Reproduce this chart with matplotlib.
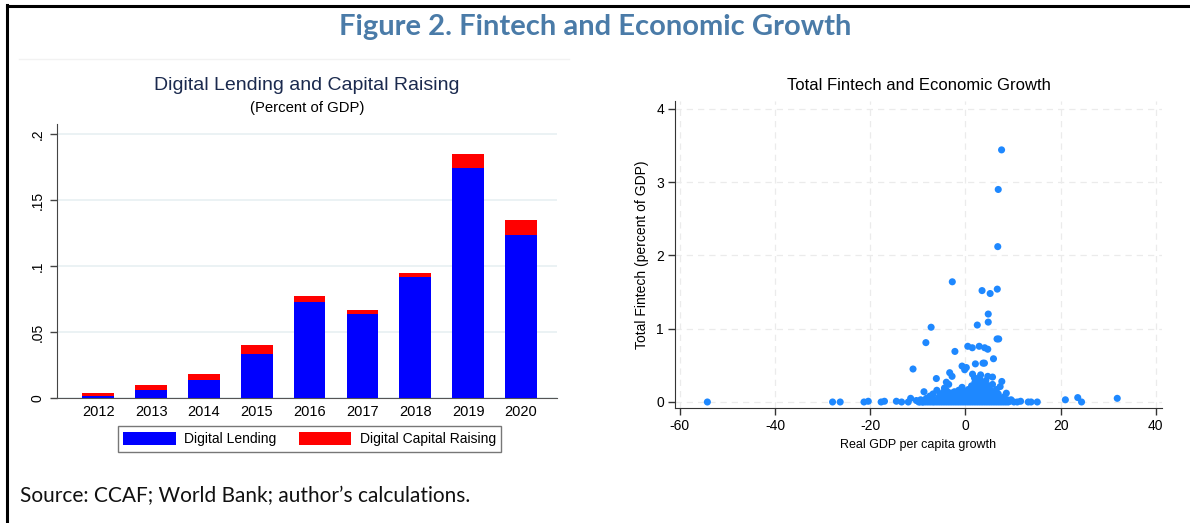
import matplotlib
matplotlib.use("Agg")
import matplotlib.pyplot as plt
from matplotlib.lines import Line2D

# ---------------- data ----------------
years = ["2012", "2013", "2014", "2015", "2016", "2017", "2018", "2019", "2020"]
digital_lending = [0.0018, 0.0063, 0.0139, 0.0337, 0.0727, 0.0635, 0.0916, 0.1744, 0.1233]
digital_capital_raising = [0.0022, 0.0038, 0.0046, 0.0068, 0.0043, 0.0028, 0.0028, 0.0104, 0.0114]
bar_yticks = [0, 0.05, 0.1, 0.15, 0.2]
bar_yticklabels = ["0", ".05", ".1", ".15", ".2"]

# scatter: (real GDP per capita growth, total fintech % of GDP)
scatter_points = [
    (-54.2, 0.0), (-27.9, 0.0), (-26.3, 0.0), (-21.3, 0.0), (-20.4, 0.01),
    (-17.7, 0.0), (-17.0, 0.01), (-14.5, 0.01), (-13.4, 0.0), (-12.0, 0.0),
    (-11.5, 0.05), (-11.0, 0.45), (-8.7, 0.14), (-8.3, 0.81), (-7.2, 1.02),
    (-6.1, 0.32), (-2.75, 1.64), (-2.2, 0.69), (-3.3, 0.40), (-2.8, 0.35),
    (-4.0, 0.27), (-3.5, 0.24), (-4.4, 0.19), (-0.7, 0.20), (-0.7, 0.49),
    (-0.15, 0.44), (0.2, 0.47), (0.5, 0.76), (1.45, 0.74), (2.1, 0.52),
    (2.5, 1.05), (2.9, 0.76), (3.5, 1.52), (3.7, 0.53), (4.0, 0.53),
    (4.05, 0.74), (4.7, 0.72), (4.8, 1.20), (4.8, 1.09), (5.2, 1.48),
    (5.9, 0.59), (4.7, 0.35), (5.7, 0.34), (6.65, 0.86), (7.0, 0.86),
    (6.7, 1.54), (6.8, 2.12), (6.9, 2.90), (7.6, 3.44), (7.65, 0.28),
    (7.3, 0.21), (5.7, 0.24), (6.5, 0.17), (8.6, 0.12), (1.5, 0.38),
    (1.9, 0.33), (3.2, 0.37), (3.1, 0.28), (3.8, 0.26), (4.2, 0.21),
    (2.7, 0.21), (21.0, 0.03), (23.6, 0.06), (24.4, 0.0), (31.9, 0.05),
    (15.1, 0.0), (13.8, 0.0), (13.2, 0.0), (11.6, 0.01), (10.9, 0.0),
    (10.2, 0.0), (9.6, 0.03), (-10.3, 0.02), (-9.8, 0.0), (-9.4, 0.03),
    (-9.0, 0.0), (-8.6, 0.02), (-8.2, 0.05), (-7.8, 0.01), (-7.5, 0.08),
    (-7.1, 0.02), (-6.8, 0.11), (-6.4, 0.03), (-6.0, 0.16), (-5.6, 0.06),
    (-5.3, 0.10), (-5.0, 0.02), (-4.7, 0.13), (-4.3, 0.05), (-3.9, 0.15),
    (-3.6, 0.09), (-3.1, 0.12), (-2.6, 0.07), (-2.3, 0.14), (-1.8, 0.10),
    (-1.4, 0.16), (-0.9, 0.08), (-0.4, 0.13), (0.1, 0.10), (0.6, 0.17),
    (1.0, 0.12), (1.3, 0.22), (1.7, 0.15), (2.0, 0.27), (2.3, 0.18),
    (2.6, 0.30), (2.8, 0.14), (3.0, 0.33), (3.3, 0.20), (3.5, 0.25),
    (3.9, 0.17), (4.3, 0.29), (4.6, 0.13), (5.0, 0.22), (5.4, 0.15),
    (5.9, 0.12), (6.3, 0.08), (6.9, 0.11), (7.5, 0.05), (8.1, 0.07),
    (8.8, 0.03), (9.3, 0.01),
    (-9.5, 0.0), (-8.9, 0.0), (-8.4, 0.0), (-7.9, 0.0), (-7.4, 0.0),
    (-6.9, 0.0), (-6.5, 0.0), (-6.0, 0.0), (-5.5, 0.0), (-5.0, 0.0),
    (-4.5, 0.0), (-4.0, 0.0), (-3.5, 0.0), (-3.0, 0.0), (-2.5, 0.0),
    (-2.0, 0.0), (-1.5, 0.0), (-1.0, 0.0), (-0.5, 0.0), (0.0, 0.0),
    (0.5, 0.0), (1.0, 0.0), (1.5, 0.0), (2.0, 0.0), (2.5, 0.0),
    (3.0, 0.0), (3.5, 0.0), (4.0, 0.0), (4.5, 0.0), (5.0, 0.0),
    (5.5, 0.0), (6.0, 0.0), (6.5, 0.0), (7.0, 0.0), (7.5, 0.0),
    (8.0, 0.0), (8.5, 0.0), (9.0, 0.0),
    (-5.8, 0.04), (-5.2, 0.04), (-4.6, 0.04), (-4.0, 0.04), (-3.4, 0.04),
    (-2.8, 0.04), (-2.2, 0.04), (-1.6, 0.04), (-1.0, 0.04), (-0.4, 0.04),
    (0.2, 0.04), (0.8, 0.04), (1.4, 0.04), (2.0, 0.04), (2.6, 0.04),
    (3.2, 0.04), (3.8, 0.04), (4.4, 0.04), (5.0, 0.04), (5.6, 0.04),
    (6.2, 0.04), (6.8, 0.04), (7.4, 0.04),
    (-4.5, 0.08), (-3.7, 0.08), (-2.9, 0.08), (-2.1, 0.08), (-1.3, 0.08),
    (-0.5, 0.08), (0.3, 0.08), (1.1, 0.08), (1.9, 0.08), (2.7, 0.08),
    (3.5, 0.08), (4.3, 0.08), (5.1, 0.08), (5.9, 0.08), (6.7, 0.08),
    (-3.0, 0.12), (-2.0, 0.12), (-1.0, 0.12), (0.0, 0.12), (1.0, 0.12),
    (1.8, 0.12), (2.6, 0.12), (3.4, 0.12), (4.2, 0.12), (5.0, 0.12),
    (1.6, 0.18), (2.4, 0.22), (3.1, 0.24), (3.8, 0.21), (4.5, 0.19),
    (2.2, 0.16), (3.6, 0.15), (4.9, 0.17),
]
gdp_growth = [p[0] for p in scatter_points]
total_fintech = [p[1] for p in scatter_points]

# ---------------- figure ----------------
W, H = 1190, 523
fig = plt.figure(figsize=(W / 100, H / 100), dpi=100)
fig.patch.set_facecolor("white")

def fx(px):
    return px / W

def fy(py):
    return 1 - py / H

arial = ["Liberation Sans", "DejaVu Sans"]
narrow = ["Liberation Sans Narrow", "Liberation Sans", "DejaVu Sans"]

# outer frame (left and top)
fig.add_artist(Line2D([fx(7), fx(7)], [0, fy(5)], color="black", lw=2.2))
fig.add_artist(Line2D([fx(7), 1], [fy(5.5), fy(5.5)], color="black", lw=2.2))

fig.text(0.5, fy(27), "Figure 2. Fintech and Economic Growth", ha="center", va="center",
         fontsize=21, fontweight="bold", color="#4a7ba8", family=["Lato", "DejaVu Sans"])
fig.text(fx(20), fy(496), "Source: CCAF; World Bank; author\u2019s calculations.", ha="left",
         va="center", fontsize=15, color="#111111", family=["Lato", "DejaVu Sans"])

# faint panel border line of left chart
fig.add_artist(Line2D([fx(19), fx(569)], [fy(59), fy(59)], color="#f2f2f2", lw=1))

# ---------------- left bar chart ----------------
ax1 = fig.add_axes([fx(57), fy(398), fx(557) - fx(57), fy(124) - fy(398)])
xpos = list(range(len(years)))
ax1.bar(xpos, digital_lending, width=0.6, color="#0000ff", label="Digital Lending", zorder=3)
ax1.bar(xpos, digital_capital_raising, width=0.6, bottom=digital_lending, color="#ff0000",
        label="Digital Capital Raising", zorder=3)
ax1.set_xlim(-0.78, 8.68)
ax1.set_ylim(0, 0.2076)
ax1.set_yticks(bar_yticks)
ax1.set_yticklabels(bar_yticklabels, rotation=90, va="center", family=arial, fontsize=10)
ax1.set_xticks(xpos)
ax1.set_xticklabels(years, family=arial, fontsize=10.5)
ax1.tick_params(axis="x", length=0, pad=5)
ax1.tick_params(axis="y", length=5, width=1, color="#444444", pad=4)
for s in ["top", "right"]:
    ax1.spines[s].set_visible(False)
ax1.spines["left"].set_color("#444444")
ax1.spines["bottom"].set_color("#555555")
ax1.yaxis.grid(True, color="#e8f0f2", lw=1.2, zorder=0)
ax1.set_axisbelow(True)
fig.text(fx(307), fy(85), "Digital Lending and Capital Raising", ha="center", va="center",
         fontsize=14, color="#1b2a4e", family=arial)
fig.text(fx(307), fy(108), "(Percent of GDP)", ha="center", va="center",
         fontsize=10.7, color="black", family=arial)
leg = fig.legend(loc="center", bbox_to_anchor=(fx(309.5), fy(439)), ncol=2, frameon=True,
                 fancybox=False, prop={"family": arial, "size": 10}, handlelength=3.8,
                 handleheight=1.1, columnspacing=1.6, handletextpad=0.6, borderpad=0.4,
                 borderaxespad=0)
leg.get_frame().set_edgecolor("#555555")
leg.get_frame().set_linewidth(1)

# ---------------- right scatter ----------------
ax2 = fig.add_axes([fx(675), fy(408), fx(1162) - fx(675), fy(101) - fy(408)])
ax2.scatter(gdp_growth, total_fintech, s=26, color="#1e88ff", edgecolors="none", zorder=3)
ax2.set_xlim(-61, 41.3)
ax2.set_ylim(-0.082, 4.107)
ax2.set_xticks([-60, -40, -20, 0, 20, 40])
ax2.set_yticks([0, 1, 2, 3, 4])
ax2.set_xticklabels(["-60", "-40", "-20", "0", "20", "40"], family=narrow, fontsize=10)
ax2.set_yticklabels(["0", "1", "2", "3", "4"], family=narrow, fontsize=10)
ax2.tick_params(length=5, width=1, color="#333333", pad=3)
for s in ["top", "right"]:
    ax2.spines[s].set_visible(False)
ax2.spines["left"].set_color("#333333")
ax2.spines["bottom"].set_color("#333333")
ax2.grid(True, color="#ebebeb", lw=0.9, ls=(0, (5, 4)), zorder=0)
ax2.set_axisbelow(True)
ax2.set_xlabel("Real GDP per capita growth", family=narrow, fontsize=9, labelpad=4)
ax2.set_ylabel("Total Fintech (percent of GDP)", family=arial, fontsize=10, labelpad=5)
ax2.set_title("Total Fintech and Economic Growth", family=narrow, fontsize=12, pad=8)

fig.savefig("out.png", dpi=100)
